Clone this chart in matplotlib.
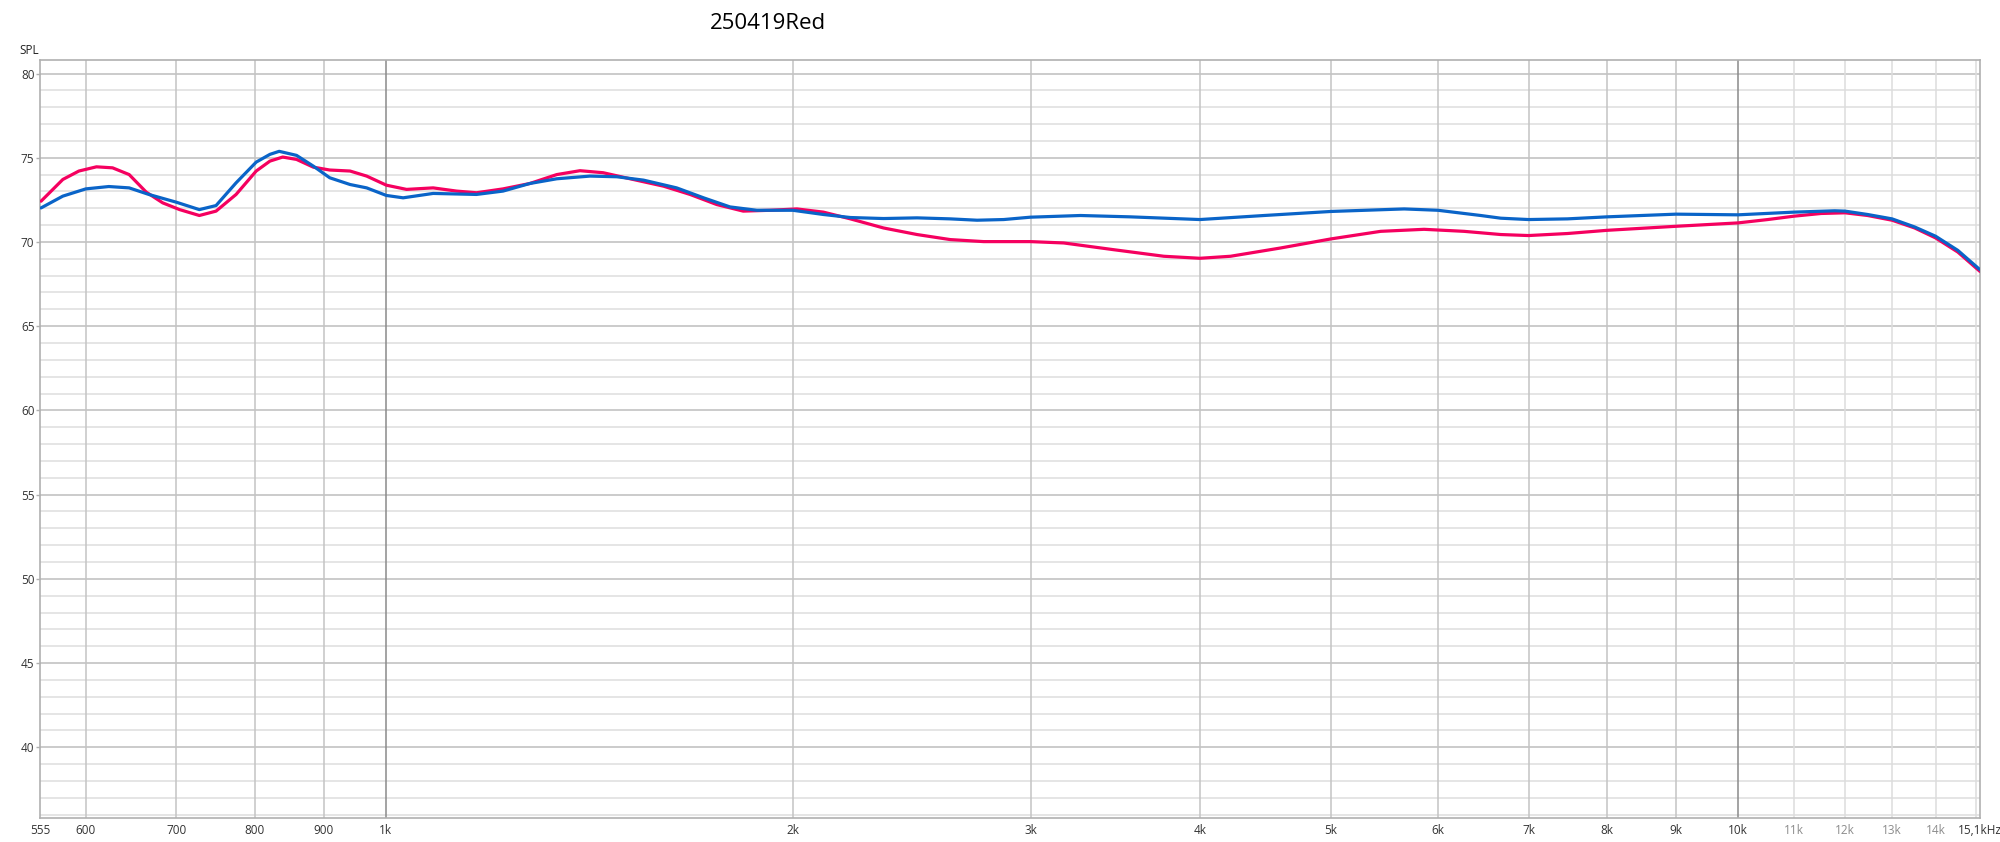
import matplotlib.pyplot as plt
import numpy as np

# frequency response
freq_red = [556, 577, 593, 611, 628, 646, 665, 684, 704, 728, 749, 775, 802, 821, 839, 859,
            884, 909, 941, 968, 1001, 1036, 1084, 1128, 1167, 1221, 1278, 1338, 1392, 1448,
            1516, 1605, 1679, 1757, 1838, 1924, 2014, 2107, 2206, 2334, 2471, 2615, 2768,
            2997, 3172, 3454, 3762, 4000, 4214, 4588, 5000, 5442, 5859, 6272, 6677, 7000,
            7479, 8000, 9000, 10000, 10520, 11000, 11520, 12000, 12470, 13000, 13510,
            14000, 14540, 15100]
spl_red = [72.42, 73.71, 74.21, 74.46, 74.40, 74.0, 72.96, 72.32, 71.92, 71.57, 71.83, 72.82,
           74.21, 74.8, 75.04, 74.9, 74.44, 74.27, 74.21, 73.91, 73.37, 73.12, 73.21, 73.02,
           72.92, 73.15, 73.47, 74.0, 74.23, 74.11, 73.75, 73.31, 72.82, 72.22, 71.83, 71.88,
           71.96, 71.77, 71.37, 70.83, 70.44, 70.14, 70.02, 70.02, 69.94, 69.54, 69.15, 69.03,
           69.15, 69.64, 70.18, 70.63, 70.75, 70.63, 70.44, 70.38, 70.5, 70.69, 70.93, 71.13,
           71.33, 71.53, 71.69, 71.73, 71.57, 71.29, 70.83, 70.24, 69.40, 68.25]

freq_blue = [556, 577, 600, 624, 646, 668, 700, 728, 749, 775, 802, 821, 834, 859, 884, 909,
             941, 968, 1001, 1030, 1084, 1167, 1221, 1278, 1338, 1416, 1482, 1551, 1641,
             1718, 1797, 1881, 2000, 2107, 2206, 2334, 2471, 2615, 2737, 2864, 2997, 3264,
             3553, 4000, 4462, 5000, 5664, 6000, 6453, 6677, 7000, 7479, 8000, 9000, 10000,
             11000, 11790, 12000, 12470, 13000, 13510, 14000, 14540, 15100]
spl_blue = [72.02, 72.72, 73.15, 73.29, 73.21, 72.82, 72.36, 71.92, 72.16, 73.51, 74.74, 75.2,
            75.38, 75.14, 74.5, 73.81, 73.41, 73.21, 72.76, 72.62, 72.88, 72.82, 73.02, 73.47,
            73.75, 73.91, 73.87, 73.67, 73.21, 72.62, 72.08, 71.88, 71.88, 71.63, 71.45, 71.39,
            71.43, 71.37, 71.29, 71.33, 71.47, 71.57, 71.49, 71.33, 71.57, 71.81, 71.96, 71.88,
            71.57, 71.41, 71.33, 71.37, 71.49, 71.65, 71.61, 71.77, 71.85, 71.83, 71.63, 71.37,
            70.89, 70.34, 69.5, 68.35]

x_ticks = [555, 600, 700, 800, 900, 1000, 2000, 3000, 4000, 5000, 6000, 7000, 8000,
           9000, 10000, 11000, 12000, 13000, 14000, 15100]
x_labels = ['555', '600', '700', '800', '900', '1k', '2k', '3k', '4k', '5k', '6k', '7k', '8k',
            '9k', '10k', '11k', '12k', '13k', '14k', '15,1kHz']
y_ticks = [40, 45, 50, 55, 60, 65, 70, 75, 80]

plt.rcParams['font.family'] = ['Open Sans', 'DejaVu Sans']

fig = plt.figure(figsize=(20, 8.42), dpi=100)
ax = fig.add_axes([0.02, 0.0285, 0.97, 0.9002])

ax.set_xscale('log')
ax.set_xlim(555, 15100)
ax.set_ylim(35.8, 80.8)

# horizontal grid: 1 dB minor, 5 dB major
for v in range(36, 81):
    c = '#bdbdbd' if v % 5 == 0 else '#dedede'
    ax.axhline(v, color=c, lw=1.1, zorder=1)

# vertical grid
grid_x = [600, 700, 800, 900, 1000, 2000, 3000, 4000, 5000, 6000, 7000, 8000, 9000,
          10000, 11000, 12000, 13000, 14000, 15000]
for f in grid_x:
    if f in (1000, 10000):
        c = '#8a8a8a'
    elif f > 10000:
        c = '#dcdcdc'
    else:
        c = '#c4c4c4'
    ax.axvline(f, color=c, lw=1.1, zorder=1)

ax.plot(freq_red, spl_red, color='#f5005f', lw=2.3, zorder=3,
        solid_joinstyle='round', solid_capstyle='round')
ax.plot(freq_blue, spl_blue, color='#0a64c8', lw=2.3, zorder=4,
        solid_joinstyle='round', solid_capstyle='round')

ax.xaxis.set_minor_locator(plt.NullLocator())
ax.set_xticks(x_ticks)
ax.set_xticklabels(x_labels)
ax.set_yticks(y_ticks)
ax.tick_params(axis='both', labelsize=8.5, colors='#333333', length=3, width=1)
ax.tick_params(axis='x', length=0, pad=4)
ax.tick_params(axis='y', pad=1, color='#b0b0b0')
for lab, f in zip(ax.get_xticklabels(), x_ticks):
    if 10000 < f < 15000:
        lab.set_color('#8c8c8c')

for s in ax.spines.values():
    s.set_color('#b0b0b0')
    s.set_linewidth(1.2)

fig.text(0.384, 0.972, '250419Red', fontsize=16, ha='center', va='center', color='black')
fig.text(0.0095, 0.94, 'SPL', fontsize=8.5, ha='left', va='center', color='#222222')

fig.savefig('out.png', dpi=100, facecolor='white')
